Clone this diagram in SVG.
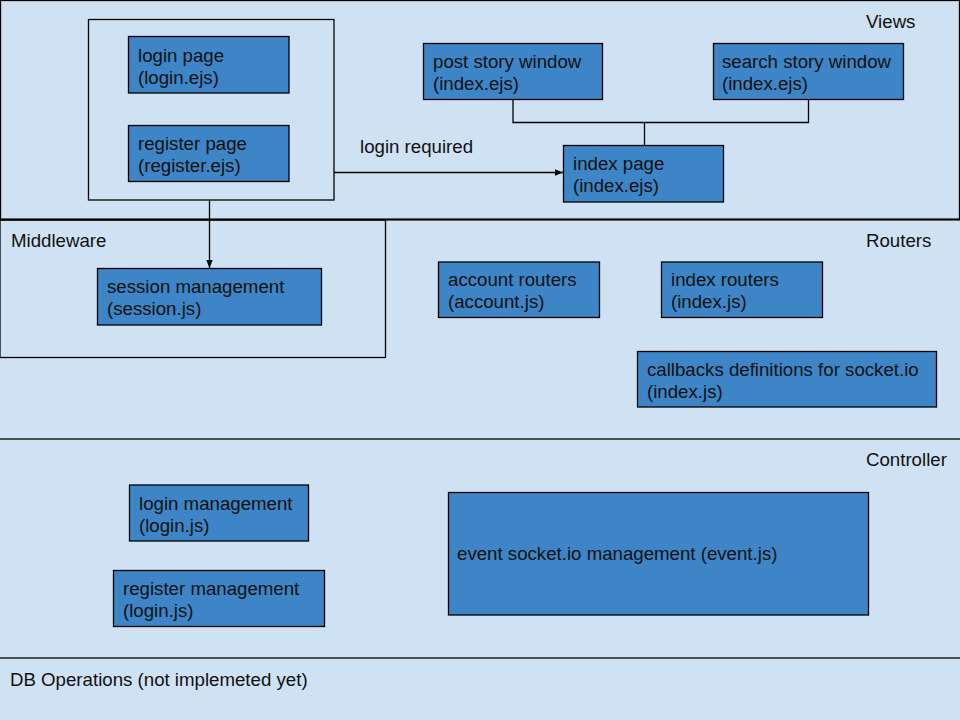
<svg xmlns="http://www.w3.org/2000/svg" width="960" height="720" viewBox="0 0 960 720">
<defs>
<marker id="arr" viewBox="0 0 10 10" refX="10" refY="5" markerWidth="8" markerHeight="8" markerUnits="userSpaceOnUse" orient="auto">
<path d="M0,1 L10,5 L0,9 Z" fill="#000"/>
</marker>
</defs>
<style>
text{font-family:"Liberation Sans",Arial,sans-serif;font-size:18.67px;fill:#111}
.frame{fill:none;stroke:#000;stroke-width:1.3}
.box{fill:#3d85c6;stroke:#000;stroke-width:1.3}
.conn{fill:none;stroke:#000;stroke-width:1.3}
</style>
<rect x="0" y="0" width="960" height="720" fill="#cfe2f3"/>
<g id="views-frame">
<rect class="frame" x="0.5" y="0.5" width="959" height="219"/>
<line x1="0" y1="219.5" x2="960" y2="219.5" stroke="#000" stroke-width="2"/>
<text x="866" y="28">Views</text>
</g>
<g id="middleware-frame">
<rect class="frame" x="0" y="220" width="385.5" height="137.5"/>
<text x="11" y="247">Middleware</text>
</g>
<g id="routers-label"><text x="866" y="247">Routers</text></g>
<g id="controller-frame">
<rect class="frame" x="-1" y="439" width="962" height="219"/>
<text x="866" y="466">Controller</text>
</g>
<g id="db-label"><text x="10" y="686">DB Operations (not implemeted yet)</text></g>
<g id="auth-group"><rect class="frame" x="88.5" y="19.5" width="245.5" height="180.5"/></g>
<g id="login-page"><rect class="box" x="128.5" y="36.5" width="160.5" height="56.5"/><text x="138" y="61.5">login page</text><text x="138" y="83.5">(login.ejs)</text></g>
<g id="register-page"><rect class="box" x="128.5" y="125.5" width="160.5" height="56"/><text x="138" y="150">register page</text><text x="138" y="172">(register.ejs)</text></g>
<g id="post-story"><rect class="box" x="423.5" y="43.5" width="179" height="56"/><text x="433" y="68">post story window</text><text x="433" y="90">(index.ejs)</text></g>
<g id="search-story"><rect class="box" x="713.5" y="43.5" width="190" height="56"/><text x="722" y="68">search story window</text><text x="722" y="90">(index.ejs)</text></g>
<g id="index-page"><rect class="box" x="563.5" y="145.5" width="160" height="56.5"/><text x="573" y="170">index page</text><text x="573" y="192">(index.ejs)</text></g>
<g id="session"><rect class="box" x="97.5" y="268.5" width="224" height="56.5"/><text x="107" y="293">session management</text><text x="107" y="315">(session.js)</text></g>
<g id="account-routers"><rect class="box" x="438.5" y="262" width="161" height="55.5"/><text x="448" y="286">account routers</text><text x="448" y="308">(account.js)</text></g>
<g id="index-routers"><rect class="box" x="661.5" y="262" width="161" height="55.5"/><text x="671" y="286">index routers</text><text x="671" y="308">(index.js)</text></g>
<g id="callbacks"><rect class="box" x="637.5" y="351.5" width="299" height="55.5"/><text x="647" y="376">callbacks definitions for socket.io</text><text x="647" y="398">(index.js)</text></g>
<g id="login-mgmt"><rect class="box" x="129.5" y="485" width="179" height="56"/><text x="139" y="510">login management</text><text x="139" y="532">(login.js)</text></g>
<g id="register-mgmt"><rect class="box" x="113.5" y="570.5" width="211" height="56"/><text x="123" y="595">register management</text><text x="123" y="617">(login.js)</text></g>
<g id="event-mgmt"><rect class="box" x="448.5" y="492.5" width="420" height="122.5"/><text x="457" y="560">event socket.io management (event.js)</text></g>
<g id="connectors">
<path class="conn" d="M513,100 V122.5 H808.5 V100"/>
<path class="conn" d="M644.5,122.5 V145"/>
<path class="conn" d="M334,172.5 H563" marker-end="url(#arr)"/>
<path class="conn" d="M209.5,200 V268" marker-end="url(#arr)"/>
<text x="360" y="153">login required</text>
</g>
</svg>
